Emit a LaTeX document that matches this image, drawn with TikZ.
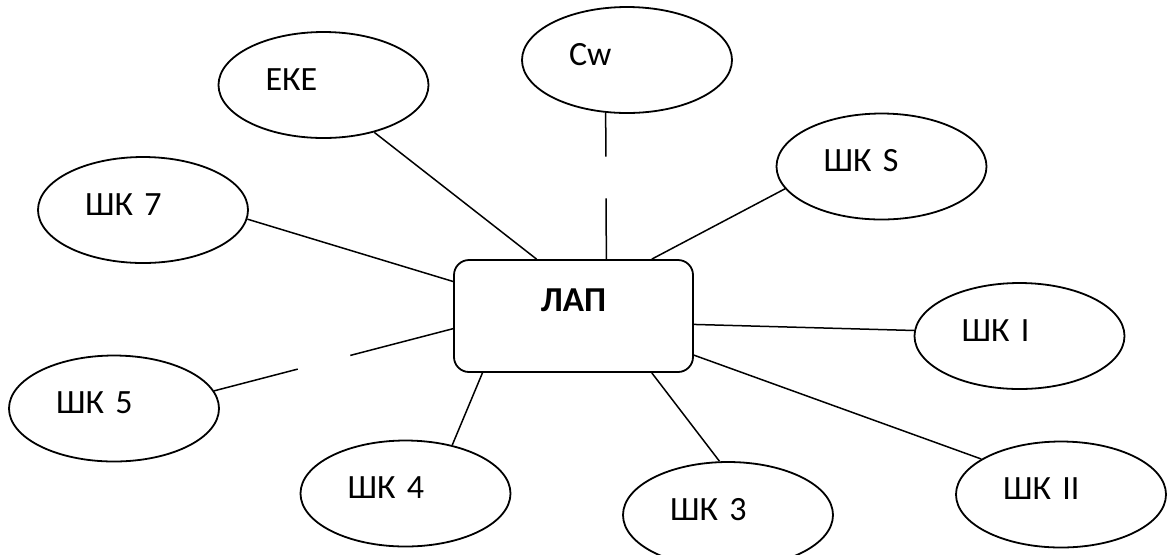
\documentclass[tikz,border=0pt]{standalone}
\usepackage{fontspec}
\setmainfont{Carlito}[WordSpace=0.7]
\usetikzlibrary{shapes.geometric,calc}

\begin{document}
\begin{tikzpicture}[
  x=0.5pt, y=-0.5pt,
  pole/.style={draw,ellipse,line width=0.9pt,minimum width=105pt,minimum height=53pt,inner sep=0pt,
    text width=58pt,align=left,text height=11pt,text depth=6pt,font=\fontsize{17}{19}\selectfont},
  hub/.style={draw,rounded corners=7.5pt,line width=0.9pt,minimum width=119.5pt,minimum height=56pt,
    inner sep=0pt,text height=11pt,text depth=16pt,font=\fontsize{17.5}{20}\selectfont\bfseries},
  link/.style={line width=0.75pt}
]
  \useasboundingbox (0,0) rectangle (1168,554);

  \node[hub] (lap) at (573.5,316) {ЛАП};

  \node[pole] (eke) at (323.5,85) {ЕКЕ};
  \node[pole] (cw) at (627,60) {Cw};
  \node[pole] (shks) at (881.5,166.5) {ШК S};
  \node[pole] (shk7) at (143,210) {ШК 7};
  \node[pole] (shki) at (1019.5,336) {ШК I};
  \node[pole] (shk5) at (114,408.5) {ШК 5};
  \node[pole] (shk4) at (405.5,493.5) {ШК 4};
  \node[pole] (shk3) at (728,515) {ШК 3};
  \node[pole] (shkii) at (1061,494.5) {ШК II};

  % broken links
  \coordinate (cwa) at ($(cw.-112.5)!0.3!(lap.60.6)$);
  \coordinate (cwb) at ($(cw.-112.5)!0.585!(lap.60.6)$);
  \coordinate (shk5a) at ($(shk5.10.6)!0.35!(lap.186.7)$);
  \coordinate (shk5b) at ($(shk5.10.6)!0.57!(lap.186.7)$);

  \draw[link] (eke.-43.2) -- (lap.123.1);
  \draw[link] (cw.-112.5) -- (cwa);
  \draw[link] (cwb) -- (lap.60.6);
  \draw[link] (shks.193.4) -- (lap.36.9);
  \draw[link] (shk7.-5.4) -- (lap.164.6);
  \draw[link] (shki.177.3) -- (lap.-4.8);
  \draw[link] (shk5.10.6) -- (shk5a);
  \draw[link] (shk5b) -- (lap.186.7);
  \draw[link] (shk4.46.1) -- (lap.212.6);
  \draw[link] (shk3.99.6) -- (lap.-36.9);
  \draw[link] (shkii.156.3) -- (lap.-18.5);
\end{tikzpicture}
\end{document}
